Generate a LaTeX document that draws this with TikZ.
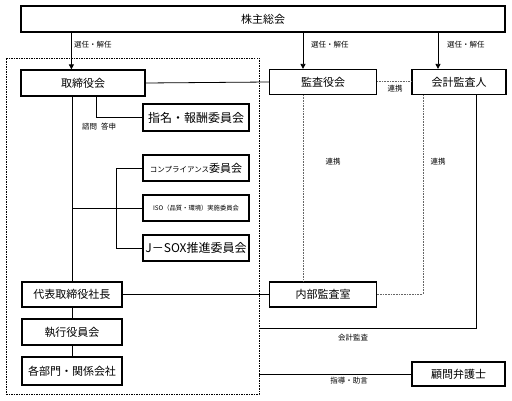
\documentclass[tikz,border=0pt]{standalone}
\usepackage{fontspec}
\setmainfont{Noto Sans CJK JP}
\usetikzlibrary{arrows.meta,positioning,calc}
\begin{document}
\begin{tikzpicture}[x=1pt,y=-1pt,
  box/.style={draw,line width=1.2pt,rectangle,inner sep=0pt,font=\fontsize{11}{13}\selectfont},
  conn/.style={line width=0.8pt},
  dot/.style={line width=0.9pt,gray!80!black,dash pattern=on 1pt off 0.6pt},
  lab/.style={font=\fontsize{7.5}{9}\selectfont,inner sep=0pt},
  arr/.style={conn,-{Triangle[length=5pt,width=5pt]}}]
\useasboundingbox (0,0) rectangle (512,401);
% group
\node[draw,line width=0.6pt,dash pattern=on 1.5pt off 1pt,rectangle,inner sep=0pt,minimum width=253pt,minimum height=336pt] (grp) at (132.5,226) {};
% boxes
\node[box,minimum width=484pt,minimum height=26pt] (top) at (263,19) {株主総会};
\node[box,minimum width=124pt,minimum height=26pt] (tori) at (83,83) {取締役会};
\node[box,minimum width=107pt,minimum height=25pt] (kansa) at (323,82) {監査役会};
\node[box,minimum width=94pt,minimum height=25pt] (kaikei) at (459,82) {会計監査人};
\node[box,minimum width=106pt,minimum height=27pt,font=\fontsize{12}{14}\selectfont] (shimei) at (196,117.5) {指名・報酬委員会};
\node[box,minimum width=106pt,minimum height=26pt,font=\fontsize{9.5}{11}\selectfont] (comp) at (196,168) {\fontsize{7.5}{9}\selectfont コンプライアンス\fontsize{11}{13}\selectfont 委員会};
\node[box,minimum width=106pt,minimum height=26pt,font=\fontsize{6.3}{8}\selectfont] (iso) at (196,208) {ISO（品質・環境）実施委員会};
\node[box,minimum width=106pt,minimum height=26pt,font=\fontsize{12}{14}\selectfont] (jsox) at (196,248) {J－SOX推進委員会};
\node[box,minimum width=100pt,minimum height=25pt] (daihyo) at (72,294.5) {代表取締役社長};
\node[box,minimum width=100pt,minimum height=26pt] (shikko) at (72,332) {執行役員会};
\node[box,minimum width=100pt,minimum height=28pt] (kakubu) at (72,371) {各部門・関係会社};
\node[box,minimum width=107pt,minimum height=25pt] (naibu) at (323,294.5) {内部監査室};
\node[box,minimum width=93pt,minimum height=24pt] (komon) at (458.5,374) {顧問弁護士};
% coordinates
\coordinate (kx) at (303,0);
\coordinate (ax) at (438,0);
\coordinate (dx) at (423,0);
\coordinate (ex) at (476,0);
\coordinate (bx) at (116,0);
\coordinate (sx) at (96,0);
% arrows from top
\draw[arr] (top.south -| tori.south west) ++(51,0) coordinate (a1) -- (a1 |- tori.north);
\draw[arr] (top.south -| kx) -- (kansa.north -| kx);
\draw[arr] (top.south -| ax) -- (kaikei.north -| ax);
\node[lab,anchor=west] (l1) at (74,45) {選任・解任};
\node[lab,anchor=west] (l2) at (311,45) {選任・解任};
\node[lab,anchor=west] (l3) at (447,45) {選任・解任};
% board to kansa
\draw[conn] (tori.east) -- (kansa.west);
\draw[dot] (kansa.east) ++(0,-1) -- ([yshift=1pt]kaikei.west);
\node[lab] (r1) at (395,89) {連携};
% board vertical
\draw[conn] (tori.south -| daihyo.north) -- (daihyo.north);
\draw[conn] (daihyo.south) -- (shikko.north);
\draw[conn] (shikko.south) -- (kakubu.north);
% shimei
\draw[conn] (tori.south -| sx) |- (shimei.west |- 0,117);
\node[lab,anchor=west] (l4) at (82,127) {諮問\hspace{4pt}答申};
% committees
\draw[conn] (daihyo.north |- iso.west) -- (iso.west);
\draw[conn] (comp.west) -| (bx |- comp.west) -- (bx |- jsox.west) -- (jsox.west);
% daihyo - naibu
\draw[conn] (daihyo.east) -- (naibu.west);
% kansa - naibu dotted
\draw[dot] (kansa.south -| kx) -- (naibu.north -| kx);
\node[lab] (r2) at (333,162) {連携};
\draw[dot] (kaikei.south -| dx) |- (naibu.east);
\node[lab] (r3) at (438,162) {連携};
% kaikei audit
\draw[conn] (kaikei.south -| ex) |- (grp.east |- 0,328);
\node[lab] (r4) at (353,338) {会計監査};
% komon
\draw[conn] (komon.west) -- (grp.east |- komon.west);
\node[lab] (r5) at (349,381) {指導・助言};
\end{tikzpicture}
\end{document}
